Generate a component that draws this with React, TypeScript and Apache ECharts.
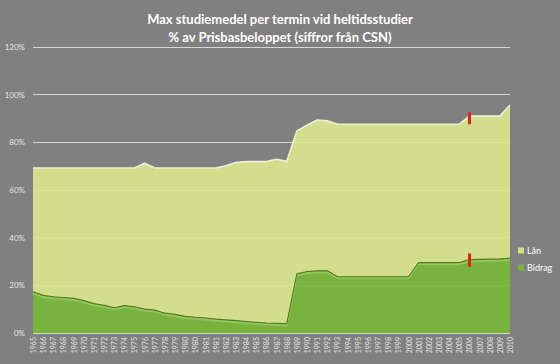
import React, { useEffect, useRef } from "react";
import * as echarts from "echarts";

const titleLines = [
  "Max studiemedel per termin vid heltidsstudier",
  "% av Prisbasbeloppet (siffror från CSN)",
];

const categories = [
  "1965", "1966", "1967", "1968", "1969", "1970", "1971", "1972", "1973", "1974",
  "1975", "1976", "1977", "1978", "1979", "1980", "1980", "1981", "1981", "1982",
  "1983", "1984", "1985", "1986", "1987", "1988", "1989", "1990", "1991", "1992",
  "1993", "1994", "1995", "1996", "1997", "1998", "1999", "2000", "2001", "2002",
  "2003", "2004", "2005", "2006", "2007", "2008", "2009", "2010",
];

const bidrag = [
  17.3, 15.8, 15.2, 14.9, 14.5, 13.6, 12.3, 11.6, 10.6, 11.5,
  11.0, 10.0, 9.6, 8.3, 7.8, 7.0, 6.6, 6.3, 5.8, 5.5,
  5.2, 4.8, 4.5, 4.2, 4.0, 3.8, 24.8, 25.8, 26.1, 26.1,
  23.6, 23.6, 23.6, 23.6, 23.6, 23.6, 23.6, 23.6, 29.5, 29.5,
  29.5, 29.5, 29.5, 30.8, 30.9, 31.0, 31.0, 31.4,
];

const lan = [
  51.9, 53.4, 54.0, 54.3, 54.7, 55.6, 56.9, 57.6, 58.6, 57.7,
  58.2, 61.2, 59.6, 60.9, 61.4, 62.2, 62.6, 62.9, 63.4, 64.7,
  66.3, 67.1, 67.4, 67.7, 68.9, 68.2, 60.0, 61.4, 63.3, 62.9,
  64.0, 64.0, 64.0, 64.0, 64.0, 64.0, 64.0, 64.0, 58.1, 58.1,
  58.1, 58.1, 58.1, 60.2, 60.1, 60.0, 60.0, 64.3,
];

const seriesNames = ["Lån", "Bidrag"];

// red markers (year, from %, to %)
const markerYear = "2006";
const markerRanges: [number, number][] = [
  [87.6, 92.6],
  [27.8, 33.4],
];

const yTicks = { min: 0, max: 120, interval: 20 };

export default function App() {
  const ref = useRef<HTMLDivElement>(null);

  useEffect(() => {
    if (!ref.current) return;
    const chart = echarts.init(ref.current, undefined, { renderer: "svg" });
    chart.setOption({
      animation: false,
      backgroundColor: "#808080",
      textStyle: { fontFamily: "Lato, 'Open Sans', sans-serif" },
      title: {
        text: titleLines.join("\n"),
        left: "center",
        top: 5,
        textStyle: {
          color: "#ffffff",
          fontSize: 13,
          fontWeight: "bold",
          lineHeight: 18,
          fontFamily: "Lato, 'Open Sans', sans-serif",
        },
      },
      legend: {
        data: seriesNames,
        orient: "vertical",
        left: 513,
        top: 241,
        itemWidth: 6,
        itemHeight: 6,
        itemGap: 8,
        icon: "rect",
        textStyle: { color: "#ffffff", fontSize: 9, padding: [0, 0, 0, -2] },
      },
      grid: { left: 33, right: 50, top: 47, bottom: 31, containLabel: false },
      xAxis: {
        type: "category",
        data: categories,
        boundaryGap: false,
        axisLine: { show: false },
        axisTick: { show: false },
        axisLabel: {
          interval: 0,
          rotate: 90,
          color: "#e6e6e6",
          fontSize: 7,
          margin: 4,
        },
      },
      yAxis: {
        type: "value",
        min: yTicks.min,
        max: yTicks.max,
        interval: yTicks.interval,
        axisLine: { show: false },
        axisTick: { show: false },
        axisLabel: {
          color: "#e6e6e6",
          fontSize: 8,
          margin: 8,
          formatter: "{value}%",
        },
        splitLine: { lineStyle: { color: "#d6d6d6", width: 1 } },
      },
      series: [
        {
          name: "Bidrag",
          type: "line",
          stack: "total",
          data: bidrag,
          symbol: "none",
          silent: true,
          lineStyle: {
            color: "#4d7d22",
            width: 1.2,
            shadowColor: "#a6d766",
            shadowOffsetY: 1.5,
            shadowBlur: 0,
          },
          itemStyle: { color: "#78b33e" },
          areaStyle: { color: "rgb(119,184,55)", opacity: 0.9 },
          z: 3,
        },
        {
          name: "Lån",
          type: "line",
          stack: "total",
          data: lan,
          symbol: "none",
          silent: true,
          lineStyle: { color: "#eef3c6", width: 1.6 },
          itemStyle: { color: "#d2de8c" },
          areaStyle: { color: "rgb(219,232,141)", opacity: 0.9 },
          z: 2,
          markLine: {
            silent: true,
            symbol: "none",
            label: { show: false },
            lineStyle: { color: "#e2231a", width: 3, type: "solid" },
            data: markerRanges.map(([a, b]) => [
              { coord: [markerYear, a] },
              { coord: [markerYear, b] },
            ]),
          },
        },
      ],
    });
    return () => chart.dispose();
  }, []);

  return (
    <div
      ref={ref}
      style={{ position: "fixed", left: 0, top: 0, width: 560, height: 364 }}
    />
  );
}
